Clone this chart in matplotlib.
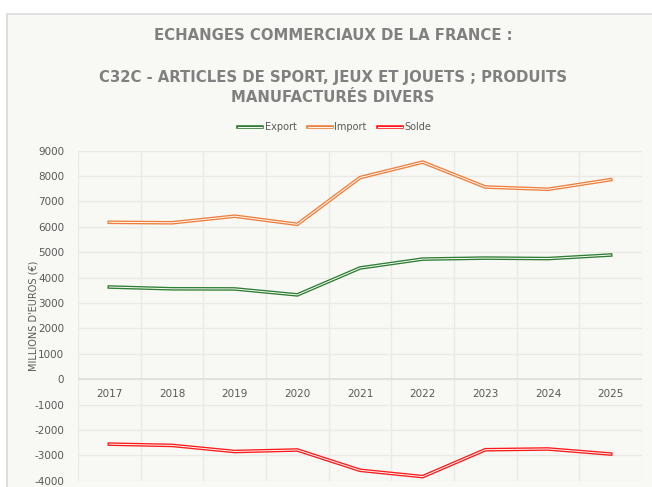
import matplotlib.pyplot as plt
import matplotlib.patheffects as pe
from matplotlib.patches import Rectangle

years = ["2017", "2018", "2019", "2020", "2021", "2022", "2023", "2024", "2025"]
export = [3630, 3560, 3555, 3320, 4380, 4730, 4770, 4750, 4890]
imports = [6180, 6160, 6420, 6100, 7940, 8550, 7570, 7480, 7860]
solde = [-2560, -2610, -2850, -2790, -3590, -3840, -2780, -2750, -2950]

series = [("Export", export, "#2E7D32"),
          ("Import", imports, "#F07F3C"),
          ("Solde", solde, "#FF1A1A")]

BG = "#F8F8F4"
GRID = "#E9E9E5"
TXT = "#595959"

fig = plt.figure(figsize=(6.52, 4.87), dpi=100)
fig.patch.set_facecolor("white")
fig.patches.append(Rectangle((7 / 652, -0.01), 0.999, 1 - 14 / 487 + 0.01,
                             transform=fig.transFigure, facecolor=BG,
                             edgecolor="#D9D9D9", linewidth=1.2, zorder=-10))

ax = fig.add_axes([78 / 652, 1 - 480.7 / 487, 564 / 652, 330 / 487])
ax.set_zorder(2)
ax.set_facecolor(BG)

x = list(range(len(years)))
for name, vals, col in series:
    ax.plot(x, vals, color="#FBFBF8", lw=0.7, label=name, solid_joinstyle="miter",
            path_effects=[pe.Stroke(linewidth=2.6, foreground=col), pe.Normal()],
            zorder=3)

ax.set_xlim(-0.5, len(years) - 0.5)
ax.set_ylim(-4000, 9000)
ax.set_yticks(range(-4000, 9001, 1000))
ax.set_yticklabels([str(v) for v in range(-4000, 9001, 1000)], fontsize=7.5, color=TXT)
ax.grid(axis="y", color=GRID, lw=1)
ax.set_xticks([i + 0.5 for i in range(-1, len(years))], minor=True)
ax.grid(axis="x", which="minor", color=GRID, lw=1)
ax.set_xticks([])
ax.tick_params(axis="both", which="both", length=0)
ax.tick_params(axis="y", pad=10)
ax.axhline(0, color="#E0E0DC", lw=1.3, zorder=2)
for s in ax.spines.values():
    s.set_visible(False)

for i, yr in enumerate(years):
    ax.annotate(yr, (i, 0), xytext=(0, -11), textcoords="offset points",
                ha="center", va="center", fontsize=7.5, color=TXT)

ax.set_ylabel("MILLIONS D'EUROS (€)", fontsize=7, color=TXT)
ax.yaxis.set_label_coords(-0.07, 0.5)

title_kw = dict(ha="center", va="center", fontsize=10.7, fontweight="bold",
                color="#808080")
fig.text(333 / 652, 1 - 35 / 487, "ECHANGES COMMERCIAUX DE LA FRANCE :", **title_kw)
fig.text(333 / 652, 1 - 87.5 / 487,
         "C32C - ARTICLES DE SPORT, JEUX ET JOUETS ; PRODUITS\nMANUFACTURÉS DIVERS",
         linespacing=1.45, **title_kw)

fig.legend(loc="center", bbox_to_anchor=(335 / 652, 1 - 127 / 487), ncol=3,
           frameon=False, fontsize=7, labelcolor=TXT, handlelength=2.4,
           handletextpad=0.3, columnspacing=1.2)

fig.savefig("out.png", dpi=100, facecolor=fig.get_facecolor())
